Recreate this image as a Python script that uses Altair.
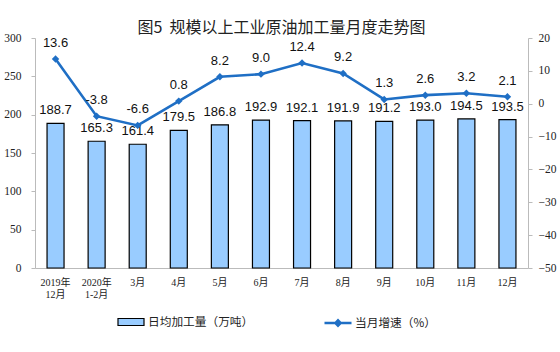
import altair as alt
import pandas as pd

categories = ["2019年\n12月", "2020年\n1-2月", "3月", "4月", "5月", "6月",
              "7月", "8月", "9月", "10月", "11月", "12月"]
daily_output = [188.7, 165.3, 161.4, 179.5, 186.8, 192.9, 192.1, 191.9, 191.2, 193.0, 194.5, 193.5]
growth = [13.6, -3.8, -6.6, 0.8, 8.2, 9.0, 12.4, 9.2, 1.3, 2.6, 3.2, 2.1]
left_ticks = [0, 50, 100, 150, 200, 250, 300]
right_ticks = [-50, -40, -30, -20, -10, 0, 10, 20]

bar_name = "日均加工量（万吨）"
line_name = "当月增速（%）"

df = pd.DataFrame({
    "cat": categories,
    "val": daily_output,
    "g": growth,
    "s1": [bar_name] * len(categories),
    "s2": [line_name] * len(categories),
    "vlab": [f"{v:.1f}" for v in daily_output],
    "glab": [f"{v:.1f}" for v in growth],
})

BLUE = "#1F6FC5"
CJK = "Noto Sans CJK SC"

x = alt.X("cat:N", sort=categories, title=None,
          scale=alt.Scale(paddingInner=0.58, paddingOuter=0.29),
          axis=alt.Axis(labelAngle=0, labelExpr="split(datum.label, '\\n')",
                        labelFont="Liberation Serif, Noto Sans CJK SC", labelFontSize=10,
                        labelColor="#222", labelLineHeight=12, labelPadding=14,
                        domainColor="#BBBBBB", ticks=False, labelBaseline="middle"))

y_left = alt.Y("val:Q", title=None,
               scale=alt.Scale(domain=[0, 300], nice=False),
               axis=alt.Axis(values=left_ticks, orient="left", grid=False,
                             labelOverlap=False, labelFlush=False,
                             labelFont="Liberation Serif", labelFontSize=11.5, labelColor="#222",
                             domainColor="#BBBBBB", tickColor="#BBBBBB", tickSize=4,
                             labelPadding=10))

y_right = alt.Y("g:Q", title=None,
                scale=alt.Scale(domain=[-50, 20], nice=False),
                axis=alt.Axis(values=right_ticks, orient="right", grid=False,
                              labelOverlap=False, labelFlush=False,
                              labelFont="Liberation Serif", labelFontSize=11.5, labelColor="#222",
                              domainColor="#BBBBBB", tickColor="#BBBBBB", tickSize=4,
                              labelPadding=6))

base = alt.Chart(df)

bars = base.mark_bar(stroke="black", strokeWidth=1.2, size=17).encode(
    x=x,
    y=y_left,
    fill=alt.Fill("s1:N", scale=alt.Scale(range=["#99CCFF"]),
                  legend=alt.Legend(title=None, orient="none", legendX=82, legendY=270,
                                    symbolType="M-1,-0.27L1,-0.27L1,0.27L-1,0.27Z",
                                    symbolSize=676, symbolStrokeColor="black",
                                    symbolStrokeWidth=1.2, labelFont=CJK, labelFontSize=11.7,
                                    labelColor="#222", labelOffset=3, padding=0)),
)

bar_text = base.mark_text(font="Liberation Sans", fontSize=13, color="#111",
                          baseline="middle", dy=-13).encode(
    x=x,
    y=y_left,
    text="vlab:N",
)

line = base.mark_line(strokeWidth=2.6, point=alt.OverlayMarkDef(shape="diamond", filled=True, size=55)).encode(
    x=x,
    y=y_right,
    color=alt.Color("s2:N", scale=alt.Scale(range=[BLUE]),
                    legend=alt.Legend(title=None, orient="none", legendX=288, legendY=270,
                                      symbolType="M-1,0L1,0M-0.2,0L0,-0.2L0.2,0L0,0.2Z",
                                      symbolSize=729, symbolStrokeWidth=2.4,
                                      symbolFillColor=BLUE, labelFont=CJK, labelFontSize=11.7,
                                      labelColor="#222", labelOffset=2, padding=0)),
)

line_text = base.mark_text(font="Liberation Sans", fontSize=13, color="#111",
                           baseline="middle", dy=-16).encode(
    x=x,
    y=y_right,
    text="glab:N",
)

chart = alt.layer(
    alt.layer(bars, bar_text),
    alt.layer(line, line_text),
).resolve_scale(y="independent", color="independent", fill="independent").properties(
    width=493, height=230,
    title=alt.TitleParams("图5\u00a0\u00a0规模以上工业原油加工量月度走势图", font=CJK, fontSize=16,
                          fontWeight="normal", color="#222", anchor="middle", offset=0, dy=4),
    autosize=alt.AutoSizeParams(type="none"),
    padding={"left": 35, "top": 38, "right": 32, "bottom": 84},
).configure_view(stroke=None)

chart.save("out.html", embed_options={"renderer": "svg", "actions": False})
